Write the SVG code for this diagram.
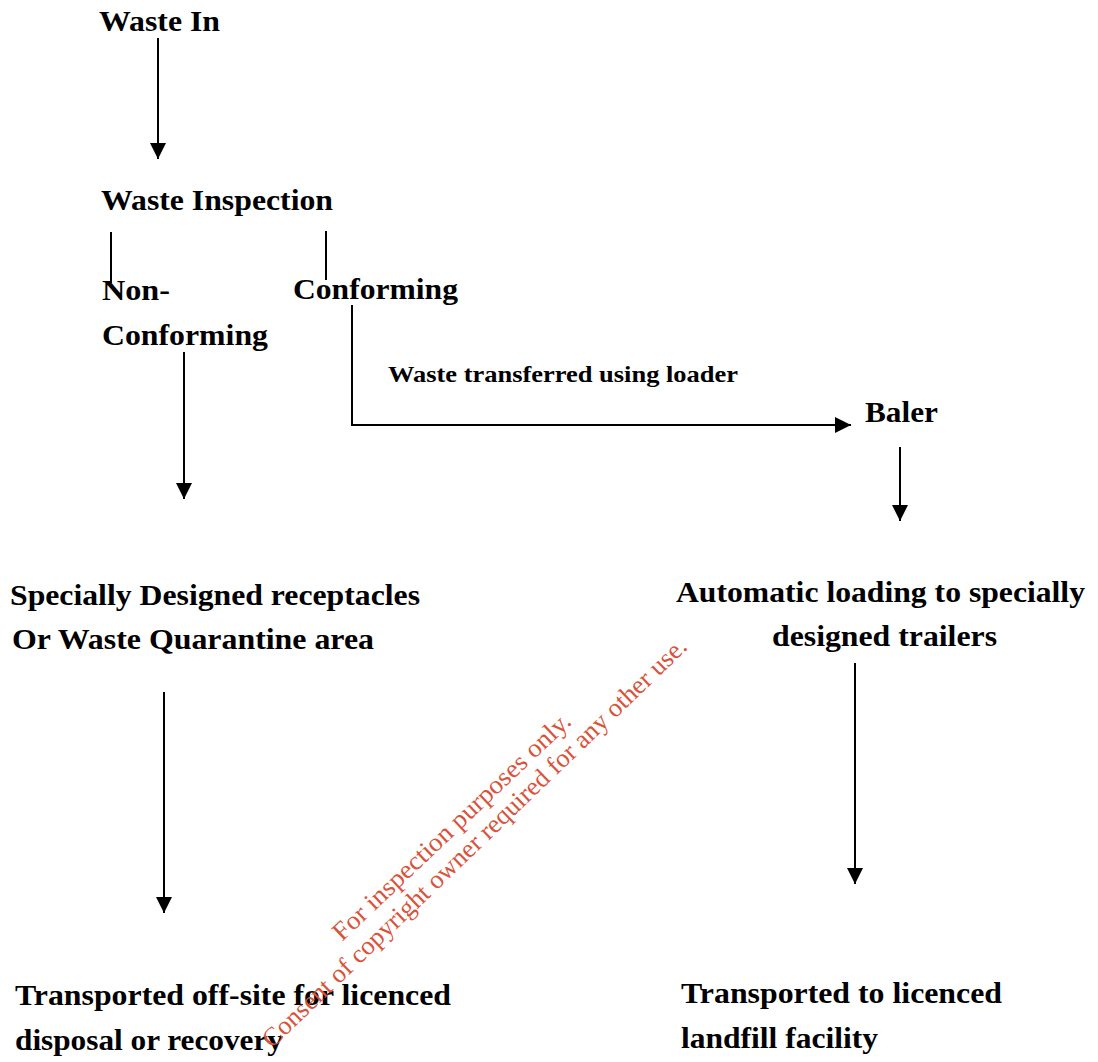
<svg xmlns="http://www.w3.org/2000/svg" width="1098" height="1062" viewBox="0 0 1098 1062">
<defs>
<marker id="ah" markerWidth="18" markerHeight="18" refX="16" refY="8" orient="auto" markerUnits="userSpaceOnUse">
<path d="M0,0 L16,8 L0,16 Z" fill="#000"/>
</marker>
<style>
.t{font-family:"Liberation Serif","Times New Roman",serif;font-weight:bold;font-size:30px;fill:#000}
.s{font-family:"Liberation Serif","Times New Roman",serif;font-weight:bold;font-size:23px;fill:#000}
.c{fill:none;stroke:#000;stroke-width:2}
.w{font-family:"Liberation Serif","Times New Roman",serif;font-size:26px;fill:#d9533b}
</style>
</defs>
<rect width="1098" height="1062" fill="#fff"/>
<g id="connectors">
<line class="c" x1="158" y1="38" x2="158" y2="159" marker-end="url(#ah)"/>
<line class="c" x1="111" y1="232" x2="111" y2="283" stroke-width="1.5"/>
<line class="c" x1="326" y1="231" x2="326" y2="280" stroke-width="1.5"/>
<polyline class="c" points="352,305 352,425 851,425" marker-end="url(#ah)"/>
<line class="c" x1="184" y1="352" x2="184" y2="499" marker-end="url(#ah)"/>
<line class="c" x1="900" y1="447" x2="900" y2="521" marker-end="url(#ah)"/>
<line class="c" x1="164" y1="692" x2="164" y2="913" marker-end="url(#ah)"/>
<line class="c" x1="855" y1="663" x2="855" y2="884" marker-end="url(#ah)"/>
</g>
<g id="n-waste-in"><text class="t" x="99" y="31" textLength="121" lengthAdjust="spacingAndGlyphs">Waste In</text></g>
<g id="n-inspection"><text class="t" x="101" y="210" textLength="232" lengthAdjust="spacingAndGlyphs">Waste Inspection</text></g>
<g id="n-nonconforming"><text class="t" x="102" y="300" textLength="68" lengthAdjust="spacingAndGlyphs">Non-</text><text class="t" x="102" y="345" textLength="166" lengthAdjust="spacingAndGlyphs">Conforming</text></g>
<g id="n-conforming"><text class="t" x="293" y="299" textLength="165" lengthAdjust="spacingAndGlyphs">Conforming</text></g>
<g id="l-loader"><text class="s" x="388" y="382" textLength="350" lengthAdjust="spacingAndGlyphs">Waste transferred using loader</text></g>
<g id="n-baler"><text class="t" x="865" y="422" textLength="73" lengthAdjust="spacingAndGlyphs">Baler</text></g>
<g id="n-receptacles"><text class="t" x="10" y="605" textLength="410" lengthAdjust="spacingAndGlyphs">Specially Designed receptacles</text><text class="t" x="12" y="649" textLength="362" lengthAdjust="spacingAndGlyphs">Or Waste Quarantine area</text></g>
<g id="n-trailers"><text class="t" x="676" y="602" textLength="409" lengthAdjust="spacingAndGlyphs">Automatic loading to specially</text><text class="t" x="772" y="646" textLength="225" lengthAdjust="spacingAndGlyphs">designed trailers</text></g>
<g id="n-offsite"><text class="t" x="15" y="1005" textLength="436" lengthAdjust="spacingAndGlyphs">Transported off-site for licenced</text><text class="t" x="15" y="1050" textLength="268" lengthAdjust="spacingAndGlyphs">disposal or recovery</text></g>
<g id="n-landfill"><text class="t" x="681" y="1003" textLength="321" lengthAdjust="spacingAndGlyphs">Transported to licenced</text><text class="t" x="681" y="1048" textLength="197" lengthAdjust="spacingAndGlyphs">landfill facility</text></g>
<g id="watermark">
<text class="w" transform="translate(342,942) rotate(-43.5)" textLength="318" lengthAdjust="spacingAndGlyphs">For inspection purposes only.</text>
<text class="w" transform="translate(272,1049) rotate(-43.9)" textLength="578" lengthAdjust="spacingAndGlyphs">Consent of copyright owner required for any other use.</text>
</g>
</svg>
